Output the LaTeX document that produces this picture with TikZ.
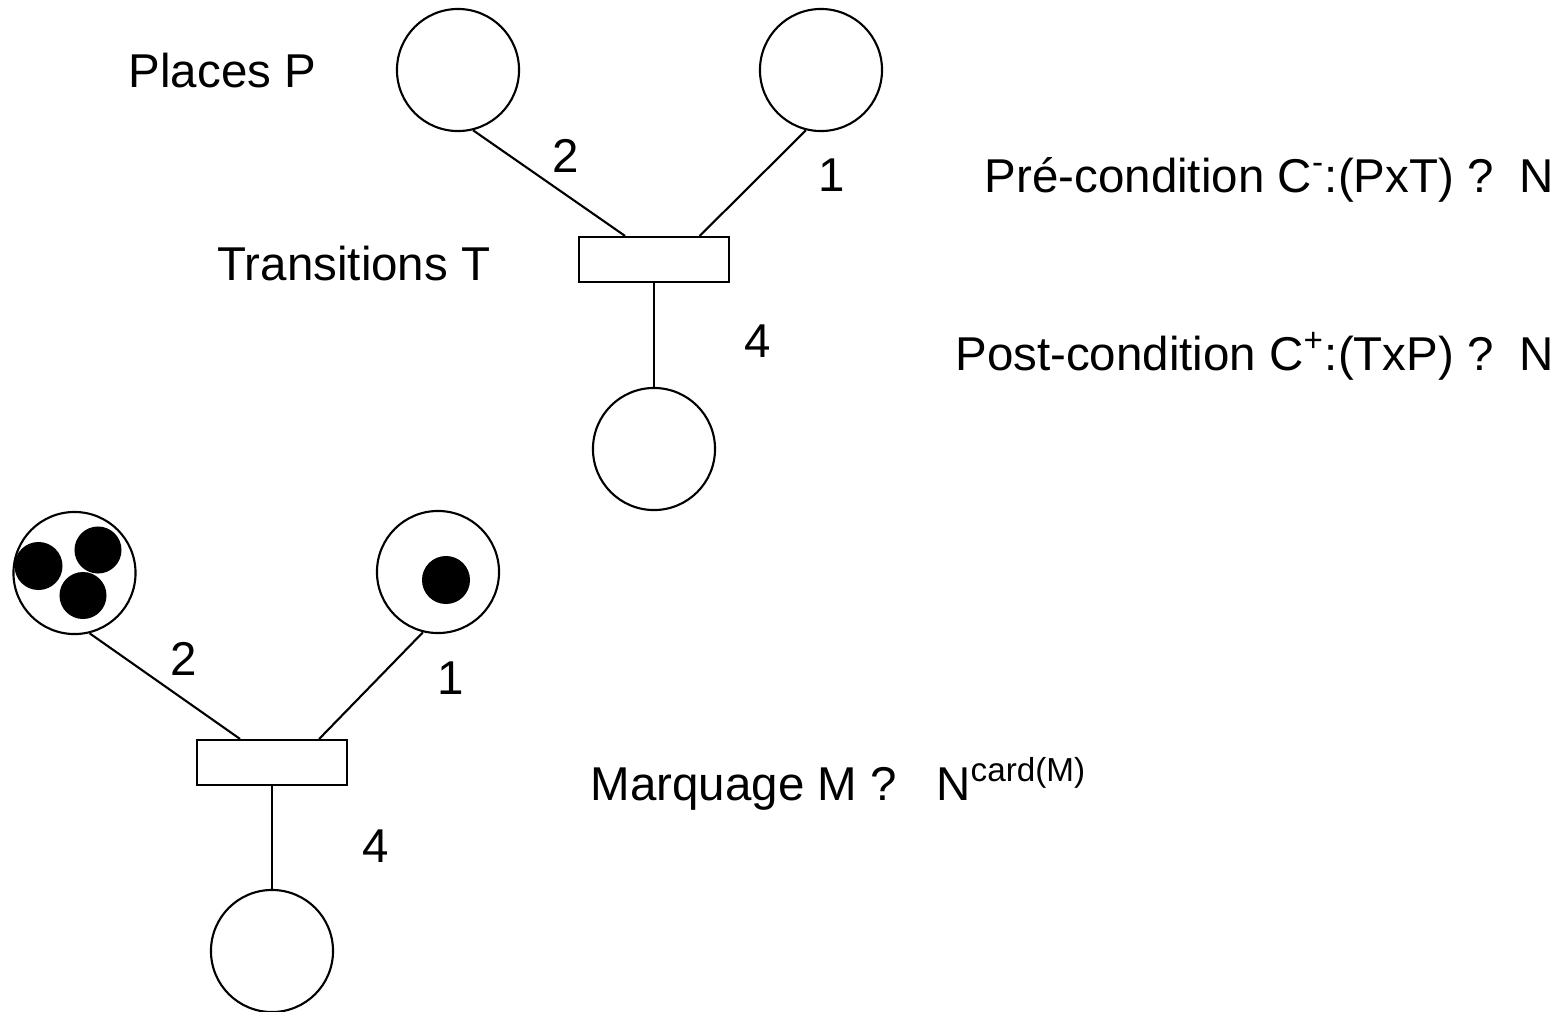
\documentclass[tikz,border=0pt]{standalone}
\usepackage{fontspec}
\setmainfont{Liberation Sans}
\usepackage{tikz}
\usetikzlibrary{calc}

\tikzset{
  place/.style={draw,circle,inner sep=0pt,minimum size=1.22cm,line width=0.6pt},
  transition/.style={draw,rectangle,inner sep=0pt,minimum width=1.5cm,minimum height=0.45cm,line width=0.6pt},
  arc/.style={line width=0.6pt},
  texte/.style={inner sep=0pt,font=\fontsize{13.5pt}{16pt}\selectfont}
}

\begin{document}
\begin{tikzpicture}[x=0.01cm,y=-0.01cm]
        \useasboundingbox (0,0) rectangle (1565,1011);
        % reseau du haut
        \node[texte,anchor=base west] (placesP) at (128,87) {Places P};
        \node[texte,anchor=base west] (transT) at (217,280) {Transitions T};
        \node[place] (p1) at (458,70) {};
        \node[place] (p2) at (821,70) {};
        \node[transition] (t1) at (654,259.5) {};
        \node[place] (p3) at (654,449) {};
        \draw[arc] (p1.-76) -- ($(t1.north west)!.31!(t1.north east)$);
        \draw[arc] (p2.-104) -- ($(t1.north west)!.8!(t1.north east)$);
        \draw[arc] (t1.south) -- (p3.north);
        \node[texte] (w1) at (566,156) {2};
        \node[texte] (w2) at (832,175) {1};
        \node[texte] (w3) at (758,341) {4};
        \node[texte,anchor=base east] (pre) at (1555,192) {Pré-condition C\textsuperscript{-}:(PxT) ?\ \ N};
        \node[texte,anchor=base east] (post) at (1555,370) {Post-condition C\textsuperscript{+}:(TxP) ?\ \ N};
        % reseau du bas, avec marquage
        \node[place] (p4) at (74.5,573) {};
        \node[place] (p5) at (438,572) {};
        \node[transition] (t2) at (272,762.5) {};
        \node[place] (p6) at (272,951) {};
        \draw[arc] (p4.-76) -- ($(t2.north west)!.29!(t2.north east)$);
        \draw[arc] (p5.-104) -- ($(t2.north west)!.81!(t2.north east)$);
        \draw[arc] (t2.south) -- (p6.north);
        \node[texte] (w4) at (184,659) {2};
        \node[texte] (w5) at (451,678) {1};
        \node[texte] (w6) at (376,846) {4};
        % jetons
        \fill (38.5,566) circle (0.24cm);
        \fill (98,550) circle (0.235cm);
        \fill (83,595.5) circle (0.235cm);
        \fill (446,580) circle (0.24cm);
        \node[texte,anchor=base west] (marq) at (590,800) {Marquage M ?\ \ \ N\textsuperscript{card(M)}};
\end{tikzpicture}
\end{document}
